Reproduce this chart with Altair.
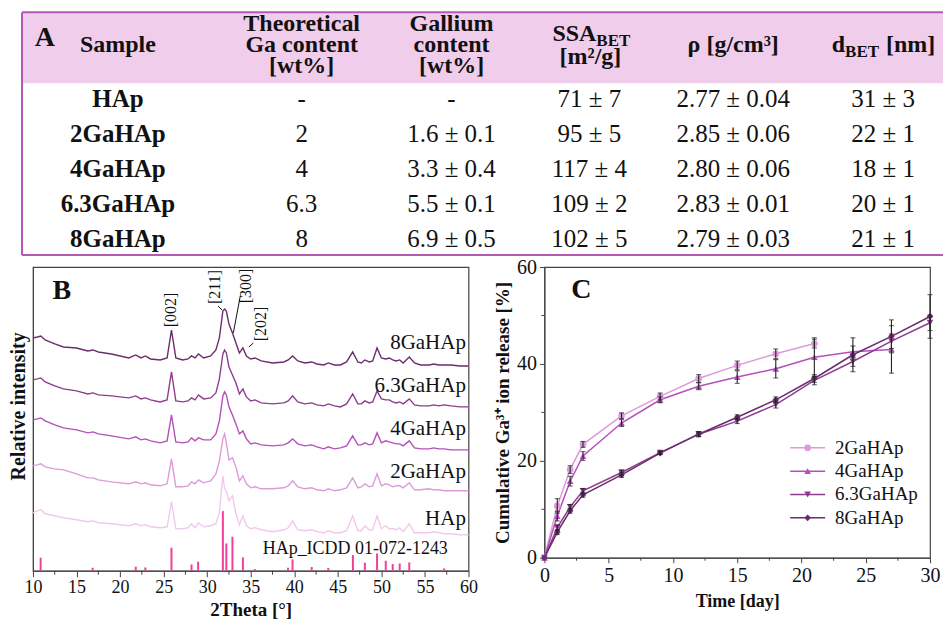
import altair as alt
import pandas as pd

FONT = "Liberation Serif"
INK = "#111111"
AXC = "#444444"

# ---------------- A: table ----------------
tbl_samples = ["HAp", "2GaHAp", "4GaHAp", "6.3GaHAp", "8GaHAp"]
tbl_theor = ["-", "2", "4", "6.3", "8"]
tbl_ga = ["-", "1.6 ± 0.1", "3.3 ± 0.4", "5.5 ± 0.1", "6.9 ± 0.5"]
tbl_ssa = ["71 ± 7", "95 ± 5", "117 ± 4", "109 ± 2", "102 ± 5"]
tbl_rho = ["2.77 ± 0.04", "2.85 ± 0.06", "2.80 ± 0.06", "2.83 ± 0.01", "2.79 ± 0.03"]
tbl_d = ["31 ± 3", "22 ± 1", "18 ± 1", "20 ± 1", "21 ± 1"]
tbl_header_multi = ["Theoretical\nGa content\n[wt%]", "Gallium\ncontent\n[wt%]"]
tbl_header_multi_col = [1, 2]
tbl_header_single = ["Sample", "ρ [g/cm³]"]
tbl_header_single_col = [0, 4]

# ---------------- B: XRD ----------------
xrd_theta = [10.0, 10.5, 10.9, 11.4, 12.5, 13.5, 15.0, 16.3, 16.9, 17.5,
             19.0, 21.0, 21.8, 22.4, 22.9, 23.5, 24.6, 25.4, 25.9, 26.4,
             27.2, 27.8, 28.2, 28.6, 29.0, 29.6, 30.4, 31.0, 31.4, 31.8,
             32.0, 32.2, 32.5, 32.9, 33.3, 33.7, 34.1, 34.5, 35.0, 35.5,
             36.2, 37.5, 38.8, 39.3, 39.8, 40.4, 41.2, 42.0, 42.6, 43.4,
             43.9, 44.6, 45.3, 46.0, 46.7, 47.3, 47.7, 48.1, 48.6, 49.0,
             49.5, 50.0, 50.5, 50.9, 51.3, 51.7, 52.1, 52.5, 53.2, 53.8,
             54.5, 55.5, 56.0, 56.6, 57.2, 58.0, 59.0, 60.0]
xrd_8ga = [233, 234, 235, 231, 227, 224, 223, 220, 221, 219,
           217, 213, 216, 213, 215, 212, 211, 213, 241, 213,
           211, 212, 215, 213, 217, 213, 215, 221, 233, 260,
           262, 260, 247, 238, 228, 218, 223, 215, 212, 213,
           210, 208, 209, 211, 215, 210, 208, 209, 207, 206,
           208, 206, 206, 209, 219, 209, 208, 211, 209, 210,
           223, 213, 212, 213, 211, 210, 211, 208, 214, 208,
           206, 206, 207, 206, 206, 206, 205, 205]
xrd_63ga = [191, 192, 193, 189, 185, 182, 180, 177, 178, 176,
            175, 173, 175, 172, 173, 171, 169, 171, 199, 170,
            169, 170, 173, 171, 176, 172, 173, 178, 192, 217,
            221, 218, 204, 196, 188, 177, 182, 174, 170, 171,
            168, 167, 168, 170, 175, 169, 167, 168, 166, 165,
            167, 165, 164, 167, 177, 167, 167, 170, 168, 169,
            180, 172, 171, 171, 169, 168, 169, 167, 172, 166,
            165, 165, 166, 165, 166, 165, 164, 164]
xrd_4ga = [151, 152, 153, 150, 146, 143, 141, 138, 139, 137,
           135, 132, 134, 131, 132, 130, 128, 130, 156, 129,
           128, 129, 133, 130, 133, 131, 131, 137, 150, 175,
           179, 176, 164, 156, 147, 137, 140, 132, 127, 128,
           126, 125, 126, 128, 132, 127, 125, 126, 124, 122,
           124, 122, 123, 125, 135, 126, 126, 128, 126, 127,
           138, 128, 130, 129, 128, 127, 127, 125, 130, 123,
           122, 122, 123, 122, 122, 121, 121, 121]
xrd_2ga = [105, 106, 107, 104, 102, 101, 97, 93, 93, 91,
           89, 87, 89, 87, 88, 86, 85, 87, 112, 84,
           84, 85, 89, 87, 91, 88, 90, 97, 110, 132,
           137, 128, 111, 113, 104, 90, 95, 87, 83, 84,
           82, 82, 83, 85, 90, 84, 82, 83, 81, 80,
           82, 80, 81, 83, 93, 83, 84, 87, 84, 85,
           97, 85, 87, 86, 84, 85, 85, 83, 88, 81,
           81, 82, 81, 81, 80, 80, 80, 80]
xrd_hap = [58, 60, 61, 57, 55, 53, 51, 49, 50, 48,
           47, 45, 47, 45, 46, 44, 43, 44, 69, 42,
           42, 43, 47, 43, 48, 44, 45, 47, 58, 95,
           82, 80, 70, 75, 57, 46, 55, 45, 42, 43,
           41, 39, 41, 43, 50, 41, 40, 41, 39, 38,
           40, 38, 38, 40, 55, 40, 40, 45, 41, 41,
           55, 42, 45, 42, 42, 41, 43, 39, 47, 38,
           38, 38, 39, 38, 37, 37, 36, 36]
xrd_names = ["8GaHAp", "6.3GaHAp", "4GaHAp", "2GaHAp", "HAp"]
xrd_colors = ["#6b2d6d", "#8c3d8e", "#b550bb", "#dd9bdb", "#f1c9ee"]

icdd_theta = [10.88, 16.85, 21.8, 22.9, 25.9, 28.2, 28.96, 31.8, 32.2, 32.9, 34.1, 35.46,
              39.28, 39.8, 42.0, 43.9, 46.73, 48.1, 49.5, 50.5, 51.3, 52.1, 53.2, 57.2]
icdd_height = [13, 3, 4, 3.3, 23, 6.3, 9, 59.7, 27.3, 34, 13.3, 1.7,
               3, 11.3, 3.7, 2.7, 15.7, 8, 17.3, 10, 6.7, 7.3, 8.3, 2.3]

lab_theta = [59.7, 59.7, 59.7, 59.7, 59.7]
lab_level = [228, 185, 142, 99, 52]

peak_text = ["[002]", "[211]", "[300]", "[202]"]
peak_theta = [25.9, 30.9, 34.5, 36.2]
peak_level = [261, 284, 285, 247]
lead_theta1 = [31.25, 33.8, 35.3]
lead_level1 = [265, 275, 228]
lead_theta2 = [31.7, 33.0, 34.8]
lead_level2 = [261, 238, 224]

# ---------------- C: release ----------------
rel_series = ["2GaHAp", "4GaHAp", "6.3GaHAp", "8GaHAp"]
rel_colors = ["#e6a8e5", "#c060c8", "#8a3590", "#4e1a50"]
rel_shapes = ["circle", "triangle-up", "triangle-down", "diamond"]
days_2 = [0, 1, 2, 3, 6, 9, 12, 15, 18, 21]
val_2 = [0, 10.7, 18.2, 23.4, 29.3, 33.3, 37.0, 39.7, 42.1, 44.2]
err_2 = [0, 1.5, 0.8, 0.6, 0.6, 0.7, 0.8, 0.9, 1.0, 0.9]
days_4 = [0, 1, 2, 3, 6, 9, 12, 15, 18, 21, 24, 27]
val_4 = [0, 8.6, 15.8, 21.0, 27.8, 32.6, 35.4, 37.3, 39.0, 41.4, 42.5, 43.0]
err_4 = [0, 1.0, 1.0, 0.9, 0.7, 0.6, 0.7, 1.3, 1.9, 4.0, 1.2, 4.9]
days_63 = [0, 1, 2, 3, 6, 9, 12, 15, 18, 21, 24, 27, 30]
val_63 = [0, 6.2, 10.5, 13.8, 17.6, 21.7, 25.5, 28.2, 31.6, 36.6, 40.5, 44.7, 48.5]
err_63 = [0, 0.6, 0.5, 0.5, 0.5, 0.3, 0.5, 0.5, 0.7, 0.9, 1.0, 1.5, 1.6]
days_8 = [0, 1, 2, 3, 6, 9, 12, 15, 18, 21, 24, 27, 30]
val_8 = [0, 5.3, 9.7, 13.0, 17.1, 21.6, 25.5, 29.0, 32.6, 37.0, 41.9, 45.7, 49.8]
err_8 = [0, 0.5, 0.5, 0.5, 0.5, 0.3, 0.5, 0.5, 0.6, 0.8, 3.5, 3.4, 4.5]

# ================= build table =================
rows = []
cols_vals = [tbl_samples, tbl_theor, tbl_ga, tbl_ssa, tbl_rho, tbl_d]
for ci, colv in enumerate(cols_vals):
    for ri, t in enumerate(colv):
        rows.append({"ci": ci, "ri": ri, "t": t})
body = pd.DataFrame(rows)
hdr_m = pd.DataFrame({"ci": tbl_header_multi_col, "t": tbl_header_multi})
hdr_s = pd.DataFrame({"ci": tbl_header_single_col, "t": tbl_header_single})
one = pd.DataFrame({"a": [0]})

# table view origin sits under panel B's plot origin; its border hangs 11px to the left
TL, TR = -11, 911
TW, TH = 911, 248
XT = alt.Scale(domain=[0, 1, 2, 3, 4, 5], range=[85, 269, 419, 557, 701, 851])
YT = alt.Scale(domain=[0, 4], range=[90.5, 230.5])
PINK = "#f1cdec"
BORDER = "#b459b6"

band = alt.Chart(one).mark_rect(color=PINK).encode(
    x=alt.value(TL), x2=alt.value(TR), y=alt.value(4), y2=alt.value(75))
b_top = alt.Chart(one).mark_rule(color=BORDER, strokeWidth=2).encode(
    x=alt.value(TL), x2=alt.value(TR), y=alt.value(4))
b_bot = alt.Chart(one).mark_rule(color=BORDER, strokeWidth=2).encode(
    x=alt.value(TL), x2=alt.value(TR), y=alt.value(247))
b_left = alt.Chart(one).mark_rule(color=BORDER, strokeWidth=2).encode(
    x=alt.value(TL), y=alt.value(4), y2=alt.value(247))

htext_m = alt.Chart(hdr_m).mark_text(font=FONT, fontSize=24, fontWeight="bold", color=INK,
                                     lineBreak="\n", lineHeight=21, baseline="middle").encode(
    x=alt.X("ci:Q", scale=XT, axis=None), y=alt.value(16), text="t:N")
htext_s = alt.Chart(hdr_s).mark_text(font=FONT, fontSize=24, fontWeight="bold", color=INK,
                                     baseline="middle").encode(
    x=alt.X("ci:Q", scale=XT, axis=None), y=alt.value(37), text="t:N")


def hpiece(ci, txt, dx, ypix, size, align):
    return alt.Chart(pd.DataFrame({"ci": [ci], "t": [txt]})).mark_text(
        font=FONT, fontSize=size, fontWeight="bold", color=INK, align=align,
        baseline="middle", dx=dx).encode(
        x=alt.X("ci:Q", scale=XT, axis=None), y=alt.value(ypix), text="t:N")


ssa1 = hpiece(3, "SSA", 7, 26, 24, "right")
ssa2 = hpiece(3, "BET", 7, 33, 17, "left")
ssa3 = hpiece(3, "[m²/g]", 1, 49, 24, "center")
d1 = hpiece(5, "d", -38, 37, 24, "right")
d2 = hpiece(5, "BET", -38, 44, 17, "left")
d3 = hpiece(5, "[nm]", 3, 37, 24, "left")

body_bold = alt.Chart(body).transform_filter("datum.ci == 0").mark_text(
    font=FONT, fontSize=25, fontWeight="bold", color=INK, baseline="middle").encode(
    x=alt.X("ci:Q", scale=XT, axis=None), y=alt.Y("ri:Q", scale=YT, axis=None), text="t:N")
body_reg = alt.Chart(body).transform_filter("datum.ci > 0").mark_text(
    font=FONT, fontSize=25, color=INK, baseline="middle").encode(
    x=alt.X("ci:Q", scale=XT, axis=None), y=alt.Y("ri:Q", scale=YT, axis=None), text="t:N")
a_lab = alt.Chart(one).mark_text(font=FONT, fontSize=28, fontWeight="bold", color=INK,
                                 baseline="middle").encode(
    x=alt.value(12), y=alt.value(30), text=alt.value("A"))

table = alt.layer(band, b_top, b_bot, b_left, htext_m, htext_s, ssa1, ssa2, ssa3, d1, d2, d3,
                  body_bold, body_reg, a_lab).properties(
    width=TW, height=TH, view=alt.ViewBackground(stroke="transparent"))

# ================= build B =================
xrd_rows = []
for name, arr in zip(xrd_names, [xrd_8ga, xrd_63ga, xrd_4ga, xrd_2ga, xrd_hap]):
    for t, v in zip(xrd_theta, arr):
        xrd_rows.append({"sample": name, "theta": t, "I": v})
xrd = pd.DataFrame(xrd_rows)
icdd = pd.DataFrame({"theta": icdd_theta, "h": icdd_height, "y0": [0] * len(icdd_theta)})
labs = pd.DataFrame({"theta": lab_theta, "I": lab_level, "t": xrd_names})
peaks = pd.DataFrame({"theta": peak_theta, "I": peak_level, "t": peak_text})
leads = pd.DataFrame({"theta": lead_theta1, "I": lead_level1, "t2": lead_theta2, "i2": lead_level2})
bminor = pd.DataFrame({"theta": [12.5, 17.5, 22.5, 27.5, 32.5, 37.5, 42.5, 47.5, 52.5, 57.5]})

BW, BH = 436, 304
XB = alt.Scale(domain=[10, 60], nice=False)
YB = alt.Scale(domain=[0, 304], nice=False)
AX_BX = alt.Axis(title="2Theta [°]", values=[10, 15, 20, 25, 30, 35, 40, 45, 50, 55, 60],
                 tickSize=6, labelFontSize=18, labelPadding=2, titleFontSize=19, titlePadding=4,
                 labelFlush=False, grid=False)
AX_BY = alt.Axis(title="Relative intensity", labels=False, ticks=False, grid=False,
                 titleFontSize=20, titlePadding=4, titleY=139)


def bx(field="theta"):
    return alt.X(f"{field}:Q", scale=XB, axis=AX_BX)


def by(field="I"):
    return alt.Y(f"{field}:Q", scale=YB, axis=AX_BY)


curves = alt.Chart(xrd).mark_line(strokeWidth=1.4).encode(
    x=bx(), y=by(),
    color=alt.Color("sample:N", scale=alt.Scale(domain=xrd_names, range=xrd_colors), legend=None),
    order="theta:Q")
sticks = alt.Chart(icdd).mark_rule(color="#f0409a", strokeWidth=2).encode(
    x=bx(), y=by("y0"), y2="h:Q")
blabels = alt.Chart(labs).mark_text(font=FONT, fontSize=21, color=INK, align="right",
                                    baseline="middle").encode(x=bx(), y=by(), text="t:N")
icdd_lab = alt.Chart(pd.DataFrame({"theta": [47.0], "I": [22], "t": ["HAp_ICDD 01-072-1243"]})).mark_text(
    font=FONT, fontSize=18, color=INK, baseline="middle").encode(x=bx(), y=by(), text="t:N")
plabels = alt.Chart(peaks).mark_text(font=FONT, fontSize=16, color=INK, angle=270,
                                     baseline="middle").encode(x=bx(), y=by(), text="t:N")
leaders = alt.Chart(leads).mark_rule(color=INK, strokeWidth=1).encode(
    x=bx(), y=by(), x2="t2:Q", y2="i2:Q")
bminor_t = alt.Chart(bminor).mark_rule(color=AXC, strokeWidth=1).encode(
    x=bx(), y=alt.value(BH), y2=alt.value(BH + 4))
b_lab = alt.Chart(one).mark_text(font=FONT, fontSize=28, fontWeight="bold", color=INK,
                                 baseline="middle").encode(
    x=alt.value(29), y=alt.value(24), text=alt.value("B"))

panel_b = alt.layer(sticks, curves, blabels, icdd_lab, plabels, leaders, bminor_t, b_lab).properties(
    width=BW, height=BH, view=alt.ViewBackground(stroke=AXC, strokeWidth=1.2))

# ================= build C =================
rel_rows = []
for name, dd, vv, ee in zip(rel_series, [days_2, days_4, days_63, days_8],
                            [val_2, val_4, val_63, val_8], [err_2, err_4, err_63, err_8]):
    for d, v, e in zip(dd, vv, ee):
        rel_rows.append({"series": name, "day": d, "val": v, "err": e})
rel = pd.DataFrame(rel_rows)
leg = pd.DataFrame({"series": rel_series, "li": [0, 1, 2, 3]})
cminx = pd.DataFrame({"day": [2.5, 7.5, 12.5, 17.5, 22.5, 27.5]})
cminy = pd.DataFrame({"val": [10, 30, 50]})

CW, CH = 386, 291
XC = alt.Scale(domain=[0, 30], nice=False)
YC = alt.Scale(domain=[0, 60], nice=False)
AX_CX = alt.Axis(title="Time [day]", values=[0, 5, 10, 15, 20, 25, 30], tickSize=5,
                 labelFontSize=20, labelPadding=3, titleFontSize=18, titlePadding=7,
                 labelFlush=False, grid=False)
AX_CY = alt.Axis(title="Cumulative Ga³⁺ ion release [%]", values=[0, 20, 40, 60], tickSize=5,
                 labelFontSize=20, labelPadding=3, titleFontSize=19, titlePadding=4, grid=False)


def cx():
    return alt.X("day:Q", scale=XC, axis=AX_CX)


def cy():
    return alt.Y("val:Q", scale=YC, axis=AX_CY)


COL = alt.Color("series:N", scale=alt.Scale(domain=rel_series, range=rel_colors), legend=None)
SHP = alt.Shape("series:N", scale=alt.Scale(domain=rel_series, range=rel_shapes), legend=None)

c_lines = alt.Chart(rel).mark_line(strokeWidth=1.5).encode(
    x=cx(), y=cy(), color=COL, order="day:Q")
c_err = alt.Chart(rel).transform_filter("datum.err > 0").mark_errorbar(
    ticks=True, color="#222222", thickness=1.1).encode(
    x=cx(), y=cy(), yError="err:Q")
c_pts = alt.Chart(rel).mark_point(filled=True, size=45, opacity=1).encode(
    x=cx(), y=cy(), color=COL, shape=SHP)
c_minx = alt.Chart(cminx).mark_rule(color=AXC, strokeWidth=1).encode(
    x=cx(), y=alt.value(CH), y2=alt.value(CH + 3))
c_miny = alt.Chart(cminy).mark_rule(color=AXC, strokeWidth=1).encode(
    y=cy(), x=alt.value(0), x2=alt.value(-3))
c_lab = alt.Chart(one).mark_text(font=FONT, fontSize=28, fontWeight="bold", color=INK,
                                 baseline="middle").encode(
    x=alt.value(37), y=alt.value(23), text=alt.value("C"))
c_main = alt.layer(c_lines, c_pts, c_err, c_minx, c_miny, c_lab)

LY = alt.Scale(domain=[0, 3], range=[181, 251])
l_line = alt.Chart(leg).mark_rule(strokeWidth=1.5).encode(
    x=alt.value(246), x2=alt.value(281), y=alt.Y("li:Q", scale=LY, axis=None), color=COL)
l_pt = alt.Chart(leg).mark_point(filled=True, size=45, opacity=1).encode(
    x=alt.value(263.5), y=alt.Y("li:Q", scale=LY, axis=None), color=COL, shape=SHP)
l_txt = alt.Chart(leg).mark_text(font=FONT, fontSize=19, color=INK, align="left",
                                 baseline="middle").encode(
    x=alt.value(291), y=alt.Y("li:Q", scale=LY, axis=None), text="series:N")
c_leg = alt.layer(l_line, l_pt, l_txt)

panel_c = alt.layer(c_main, c_leg).resolve_scale(y="independent").properties(
    width=CW, height=CH, view=alt.ViewBackground(stroke=AXC, strokeWidth=1.2))

row = alt.hconcat(panel_b, panel_c, spacing=76, bounds="flush")
chart = alt.vconcat(table, row, spacing=0).properties(padding=0).configure(
    font=FONT).configure_view(strokeWidth=0).configure_axis(
    labelFont=FONT, titleFont=FONT, labelColor=INK, titleColor=INK,
    domainColor=AXC, tickColor=AXC, titleFontWeight="bold")

chart.save("out.html", embed_options={"renderer": "svg", "actions": False})
